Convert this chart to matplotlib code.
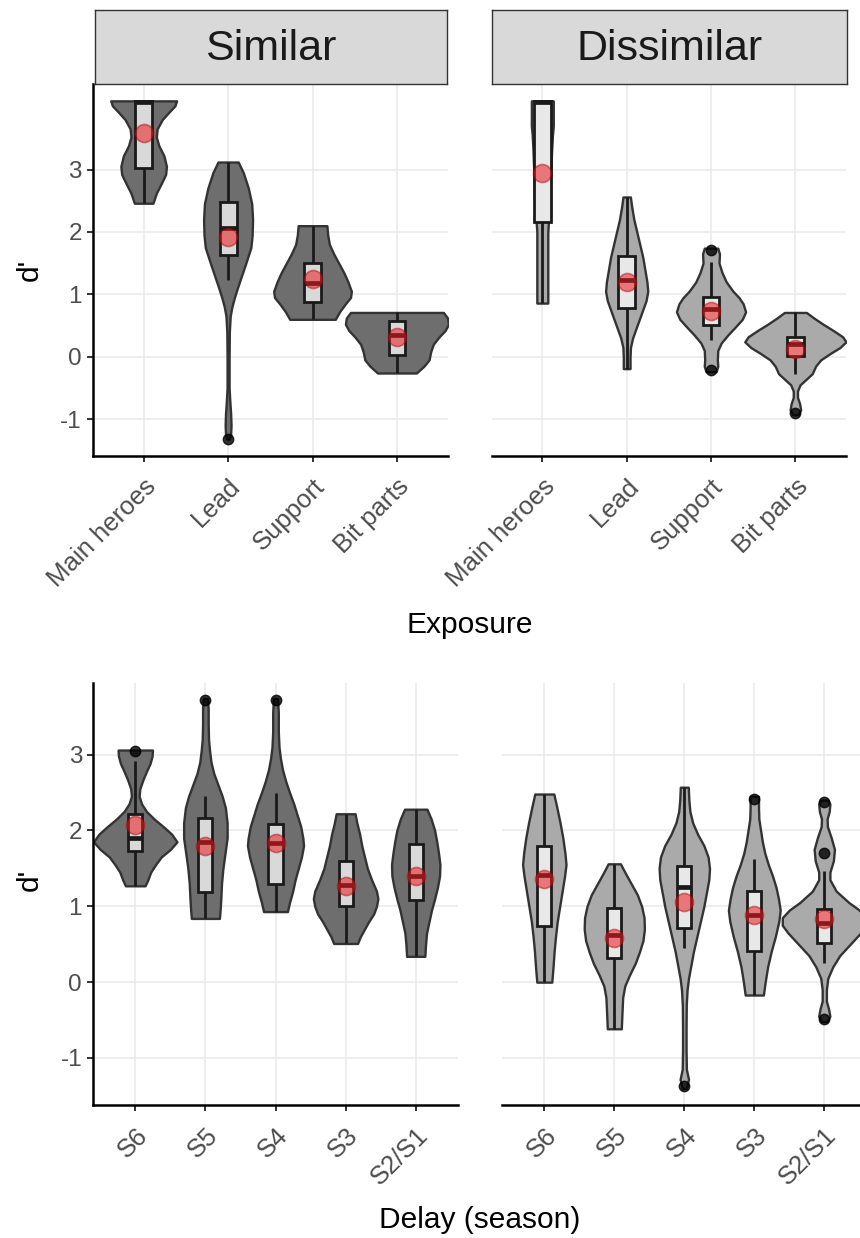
import numpy as np
import matplotlib
matplotlib.use("Agg")
import matplotlib.pyplot as plt
from matplotlib import font_manager

plt.rcParams['font.family'] = ['Liberation Sans', 'DejaVu Sans']
plt.rcParams['axes.unicode_minus'] = False

exposure = ["Main heroes", "Lead", "Support", "Bit parts"]
delay = ["S6", "S5", "S4", "S3", "S2/S1"]

# violin outlines: d' values and half widths (category units)
sim_exp_y = [
    [4.10, 4.02, 3.92, 3.80, 3.65, 3.52, 3.38, 3.22, 3.05, 2.92, 2.78, 2.62, 2.46],
    [3.12, 2.95, 2.70, 2.45, 2.20, 1.95, 1.75, 1.50, 1.30, 1.10, 0.95, 0.80, 0.65, 0.40, 0.0,
     -0.50, -0.70, -0.90, -1.10, -1.25, -1.32],
    [2.10, 1.95, 1.80, 1.65, 1.50, 1.35, 1.20, 1.05, 0.95, 0.85, 0.72, 0.60],
    [0.71, 0.62, 0.52, 0.42, 0.32, 0.20, 0.08, -0.05, -0.15, -0.26],
]
sim_exp_w = [
    [0.39, 0.37, 0.30, 0.22, 0.16, 0.15, 0.18, 0.24, 0.27, 0.26, 0.21, 0.15, 0.11],
    [0.12, 0.18, 0.24, 0.28, 0.29, 0.285, 0.27, 0.21, 0.16, 0.11, 0.075, 0.045, 0.025, 0.015, 0.012,
     0.012, 0.02, 0.03, 0.035, 0.03, 0.015],
    [0.17, 0.18, 0.20, 0.25, 0.31, 0.37, 0.42, 0.46, 0.45, 0.39, 0.32, 0.27],
    [0.55, 0.60, 0.61, 0.57, 0.50, 0.43, 0.40, 0.38, 0.32, 0.23],
]
# whisker low, q1, median, q3, whisker high
sim_exp_box = [(2.46, 3.02, 4.08, 4.10, 4.10), (1.23, 1.63, 2.06, 2.48, 3.12),
               (0.60, 0.88, 1.18, 1.50, 2.10), (-0.26, 0.03, 0.35, 0.58, 0.71)]
sim_exp_mean = [3.58, 1.92, 1.24, 0.32]
sim_exp_out = [[], [-1.31], [], []]

dis_exp_y = [
    [4.10, 3.70, 3.55, 3.30, 2.90, 2.50, 2.20, 2.00, 1.50, 1.20, 0.86],
    [2.56, 2.40, 2.20, 2.00, 1.80, 1.60, 1.40, 1.20, 1.05, 0.90, 0.75, 0.60, 0.45, 0.30, 0.15, 0.0, -0.19],
    [1.74, 1.65, 1.50, 1.35, 1.20, 1.05, 0.95, 0.85, 0.72, 0.60, 0.48, 0.35, 0.22, 0.10, -0.05, -0.15, -0.24],
    [0.71, 0.62, 0.52, 0.42, 0.32, 0.24, 0.15, 0.05, -0.05, -0.15, -0.27, -0.37, -0.45, -0.55, -0.65,
     -0.75, -0.85, -0.93],
]
dis_exp_w = [
    [0.13, 0.13, 0.12, 0.11, 0.10, 0.09, 0.075, 0.065, 0.065, 0.065, 0.065],
    [0.044, 0.06, 0.085, 0.12, 0.155, 0.19, 0.215, 0.24, 0.25, 0.23, 0.19, 0.15, 0.11, 0.07, 0.045, 0.04, 0.04],
    [0.08, 0.10, 0.095, 0.13, 0.18, 0.26, 0.33, 0.38, 0.41, 0.37, 0.29, 0.20, 0.12, 0.08, 0.075, 0.08, 0.06],
    [0.13, 0.22, 0.33, 0.45, 0.56, 0.60, 0.53, 0.41, 0.30, 0.24, 0.20, 0.12, 0.055, 0.025, 0.025,
     0.05, 0.063, 0.03],
]
dis_exp_box = [(0.86, 2.16, 4.08, 4.09, 4.09), (-0.19, 0.78, 1.23, 1.62, 2.56),
               (0.27, 0.51, 0.76, 0.95, 1.52), (-0.27, 0.01, 0.21, 0.31, 0.71)]
dis_exp_mean = [2.94, 1.20, 0.74, 0.13]
dis_exp_out = [[], [], [1.71, -0.21], [-0.90]]

sim_del_y = [
    [3.06, 2.98, 2.88, 2.78, 2.67, 2.55, 2.45, 2.35, 2.25, 2.15, 2.05, 1.95, 1.85, 1.75, 1.65, 1.55,
     1.45, 1.35, 1.27],
    [3.74, 3.60, 3.40, 3.20, 3.05, 2.90, 2.75, 2.60, 2.45, 2.30, 2.10, 1.90, 1.70, 1.50, 1.30, 1.10,
     0.95, 0.84],
    [3.74, 3.55, 3.30, 3.10, 2.95, 2.80, 2.65, 2.50, 2.35, 2.20, 2.05, 1.90, 1.80, 1.65, 1.50, 1.35,
     1.20, 1.05, 0.93],
    [2.22, 2.10, 1.95, 1.80, 1.65, 1.50, 1.35, 1.20, 1.10, 1.00, 0.90, 0.80, 0.70, 0.60, 0.51],
    [2.28, 2.15, 2.00, 1.85, 1.70, 1.55, 1.40, 1.25, 1.10, 0.95, 0.80, 0.65, 0.50, 0.34],
]
sim_del_w = [
    [0.245, 0.24, 0.21, 0.16, 0.11, 0.065, 0.055, 0.09, 0.16, 0.27, 0.40, 0.52, 0.595, 0.50, 0.37,
     0.29, 0.22, 0.18, 0.14],
    [0.03, 0.04, 0.04, 0.045, 0.06, 0.08, 0.12, 0.18, 0.24, 0.285, 0.31, 0.31, 0.28, 0.25, 0.23,
     0.22, 0.21, 0.20],
    [0.03, 0.04, 0.04, 0.05, 0.07, 0.10, 0.145, 0.20, 0.26, 0.31, 0.36, 0.39, 0.40, 0.37, 0.325,
     0.28, 0.245, 0.20, 0.17],
    [0.135, 0.16, 0.20, 0.23, 0.27, 0.31, 0.37, 0.44, 0.46, 0.44, 0.40, 0.33, 0.27, 0.21, 0.17],
    [0.16, 0.22, 0.27, 0.30, 0.325, 0.345, 0.34, 0.31, 0.27, 0.225, 0.19, 0.155, 0.14, 0.13],
]
sim_del_box = [(1.27, 1.73, 1.90, 2.22, 2.92), (0.84, 1.19, 1.85, 2.17, 2.45),
               (0.93, 1.30, 1.83, 2.08, 2.50), (0.51, 1.005, 1.28, 1.60, 2.22),
               (0.34, 1.085, 1.40, 1.82, 2.28)]
sim_del_mean = [2.07, 1.80, 1.84, 1.27, 1.40]
sim_del_out = [[3.05], [3.72], [3.72], [], []]

dis_del_y = [
    [2.48, 2.30, 2.10, 1.90, 1.70, 1.55, 1.40, 1.20, 1.00, 0.80, 0.60, 0.40, 0.20, 0.0],
    [1.56, 1.45, 1.30, 1.15, 1.00, 0.85, 0.70, 0.55, 0.40, 0.25, 0.10, -0.05, -0.20, -0.40, -0.615],
    [2.57, 2.40, 2.25, 2.10, 1.95, 1.80, 1.65, 1.50, 1.35, 1.20, 1.00, 0.80, 0.60, 0.40, 0.20, 0.05,
     -0.10, -0.30, -0.60, -0.90, -1.15, -1.28, -1.40],
    [2.45, 2.30, 2.15, 2.00, 1.85, 1.70, 1.55, 1.40, 1.25, 1.10, 0.95, 0.80, 0.60, 0.40, 0.20, 0.0, -0.17],
    [2.40, 2.35, 2.25, 2.15, 2.05, 1.90, 1.75, 1.60, 1.45, 1.35, 1.20, 1.05, 0.95, 0.85, 0.75, 0.65,
     0.50, 0.35, 0.20, 0.05, -0.10, -0.25, -0.35, -0.45, -0.52],
]
dis_del_w = [
    [0.136, 0.18, 0.225, 0.265, 0.295, 0.31, 0.29, 0.255, 0.22, 0.185, 0.16, 0.14, 0.125, 0.107],
    [0.088, 0.15, 0.24, 0.33, 0.39, 0.425, 0.43, 0.41, 0.36, 0.30, 0.22, 0.15, 0.12, 0.11, 0.10],
    [0.057, 0.065, 0.08, 0.12, 0.19, 0.28, 0.34, 0.36, 0.35, 0.32, 0.28, 0.23, 0.18, 0.13, 0.09, 0.06,
     0.04, 0.028, 0.025, 0.025, 0.03, 0.06, 0.03],
    [0.06, 0.06, 0.065, 0.09, 0.115, 0.15, 0.20, 0.26, 0.31, 0.345, 0.37, 0.35, 0.30, 0.24, 0.19, 0.155, 0.13],
    [0.05, 0.08, 0.07, 0.04, 0.045, 0.10, 0.145, 0.13, 0.08, 0.08, 0.17, 0.35, 0.50, 0.60, 0.60, 0.52,
     0.37, 0.22, 0.12, 0.05, 0.03, 0.03, 0.06, 0.08, 0.04],
]
dis_del_box = [(0.0, 0.745, 1.41, 1.80, 2.48), (-0.615, 0.315, 0.62, 0.975, 1.56),
               (0.45, 0.72, 1.26, 1.535, 2.57), (-0.17, 0.415, 0.885, 1.20, 1.62),
               (0.25, 0.51, 0.78, 0.96, 1.46)]
dis_del_mean = [1.36, 0.58, 1.06, 0.89, 0.83]
dis_del_out = [[], [], [-1.37], [2.42], [2.37, 1.70, -0.49]]

names = {f.name for f in font_manager.fontManager.ttflist}
if 'Liberation Sans Narrow' in names:
    strip_font, strip_size = 'Liberation Sans Narrow', 36
else:
    strip_font, strip_size = 'Liberation Sans', 31


def draw_panel(ax, cats, ys, ws, boxes, means, outs, fill, boxfill, ylim, first):
    for i in range(len(cats)):
        x = i + 1
        y = np.array(ys[i])
        w = np.array(ws[i])
        ax.fill_betweenx(y, x - w, x + w, facecolor=fill, edgecolor='#333333', lw=1.7, zorder=2)
        lo, q1, med, q3, hi = boxes[i]
        ax.vlines(x, lo, q1, color='#1a1a1a', lw=2.0, zorder=3)
        ax.vlines(x, q3, hi, color='#1a1a1a', lw=2.0, zorder=3)
        ax.bar(x, q3 - q1, bottom=q1, width=0.2, color=boxfill, edgecolor='#1a1a1a', lw=2.0, zorder=3)
        ax.hlines(med, x - 0.1, x + 0.1, color='#1a1a1a', lw=3.4, zorder=4)
        if outs[i]:
            ax.plot([x] * len(outs[i]), outs[i], 'o', color='black', ms=7.5, alpha=0.8, zorder=4)
        ax.plot(x, means[i], 'o', ms=13, mfc=(0.92, 0.1, 0.12, 0.55), mec=(0.65, 0.0, 0.0, 0.45),
                mew=1.2, zorder=5)
    ax.set_xlim(0.4, len(cats) + 0.6)
    ax.set_ylim(*ylim)
    ax.set_xticks(range(1, len(cats) + 1))
    ax.set_xticklabels(cats, rotation=45, ha='right', va='top', rotation_mode='anchor')
    ax.set_yticks([-1, 0, 1, 2, 3])
    ax.grid(color='#EBEBEB', lw=1.2)
    ax.set_axisbelow(True)
    for s in ['top', 'right']:
        ax.spines[s].set_visible(False)
    ax.spines['bottom'].set_linewidth(1.8)
    ax.spines['left'].set_linewidth(1.8)
    ax.tick_params(length=4, width=1.4, color='#333333', labelcolor='#4D4D4D')
    ax.tick_params(axis='x', labelsize=18.5, pad=9)
    ax.tick_params(axis='y', labelsize=17.5, pad=4)
    if not first:
        ax.spines['left'].set_visible(False)
        ax.tick_params(axis='y', left=False, labelleft=False)


fig = plt.figure(figsize=(8.6, 12.38), dpi=100)
H = 1238.0
W = 860.0

ax1 = fig.add_axes([93 / W, (H - 456) / H, 354.6 / W, 372 / H])
ax2 = fig.add_axes([491.7 / W, (H - 456) / H, 354.3 / W, 372 / H])
ax3 = fig.add_axes([93.2 / W, (H - 1105) / H, 364.6 / W, 421.7 / H])
ax4 = fig.add_axes([502.3 / W, (H - 1105) / H, 364 / W, 421.7 / H])

top_lim = (-1.59, 4.37)
bot_lim = (-1.62, 3.94)
draw_panel(ax1, exposure, sim_exp_y, sim_exp_w, sim_exp_box, sim_exp_mean, sim_exp_out,
           '#6E6E6E', '#D9D9D9', top_lim, True)
draw_panel(ax2, exposure, dis_exp_y, dis_exp_w, dis_exp_box, dis_exp_mean, dis_exp_out,
           '#AAAAAA', '#E8E8E8', top_lim, False)
draw_panel(ax3, delay, sim_del_y, sim_del_w, sim_del_box, sim_del_mean, sim_del_out,
           '#6E6E6E', '#D9D9D9', bot_lim, True)
draw_panel(ax4, delay, dis_del_y, dis_del_w, dis_del_box, dis_del_mean, dis_del_out,
           '#AAAAAA', '#E8E8E8', bot_lim, False)

# facet strips
for left, width, label in [(95, 352, 'Similar'), (492, 355, 'Dissimilar')]:
    sax = fig.add_axes([left / W, (H - 84) / H, width / W, 74 / H])
    sax.set_facecolor('#D9D9D9')
    sax.set_xticks([])
    sax.set_yticks([])
    for s in sax.spines.values():
        s.set_color('#333333')
        s.set_linewidth(1.0)
    sax.text(0.5, 0.47, label, ha='center', va='center', fontsize=strip_size,
             family=strip_font, color='#1A1A1A', transform=sax.transAxes)

fig.text(470 / W, 1 - 625 / H, 'Exposure', ha='center', va='center', fontsize=21.5)
fig.text(480 / W, 1 - 1220 / H, 'Delay (season)', ha='center', va='center', fontsize=21.5)
fig.text(30 / W, 1 - 270 / H, "d'", ha='center', va='center', fontsize=21.5, rotation=90)
fig.text(30 / W, 1 - 880 / H, "d'", ha='center', va='center', fontsize=21.5, rotation=90)

fig.savefig('out.png', dpi=100)
